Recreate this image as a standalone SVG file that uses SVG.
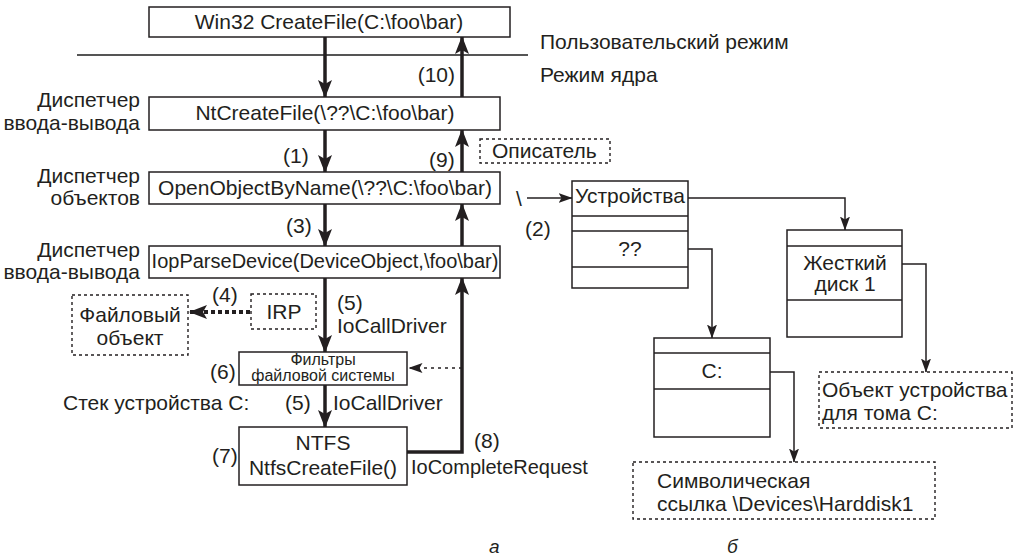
<svg xmlns="http://www.w3.org/2000/svg" width="1018" height="560" viewBox="0 0 1018 560">
<style>
text{font-family:"Liberation Sans",Arial,sans-serif;font-size:21px;fill:#231f20}
.c{text-anchor:middle}
.e{text-anchor:end}
.s{font-size:16px}
.n{font-size:20px}
.it{font-style:italic;font-size:19px}
.box{fill:#fff;stroke:#231f20;stroke-width:1.5}
.dbox{fill:none;stroke:#231f20;stroke-width:1.4;stroke-dasharray:3 3}
.thick{fill:none;stroke:#231f20;stroke-width:3.5}
.thin{fill:none;stroke:#231f20;stroke-width:1.5}
.row{stroke:#231f20;stroke-width:1.5}
</style>
<defs>
<marker id="big" markerUnits="userSpaceOnUse" markerWidth="18" markerHeight="14" viewBox="0 0 18 14" refX="17" refY="7" orient="auto">
<path d="M0,0 L18,7 L0,14 L4,7 z" fill="#231f20"/>
</marker>
<marker id="sm" markerUnits="userSpaceOnUse" markerWidth="14" markerHeight="10" viewBox="0 0 14 10" refX="13.5" refY="5" orient="auto">
<path d="M0,0 L14,5 L0,10 L3,5 z" fill="#231f20"/>
</marker>
</defs>

<line x1="77" y1="55" x2="528" y2="55" stroke="#555" stroke-width="2"/>
<text x="540" y="49">Пользовательский режим</text>
<text x="540" y="82">Режим ядра</text>

<g id="connectors">
<line class="thick" x1="325" y1="37" x2="325" y2="97" marker-end="url(#big)"/>
<line class="thick" x1="462" y1="97" x2="462" y2="37" marker-end="url(#big)"/>
<line class="thick" x1="325" y1="130" x2="325" y2="172" marker-end="url(#big)"/>
<line class="thick" x1="462" y1="172" x2="462" y2="130" marker-end="url(#big)"/>
<line class="thick" x1="325" y1="204" x2="325" y2="246" marker-end="url(#big)"/>
<line class="thick" x1="462" y1="246" x2="462" y2="204" marker-end="url(#big)"/>
<line class="thick" x1="325" y1="278" x2="325" y2="352" marker-end="url(#big)"/>
<line class="thick" x1="325" y1="385" x2="325" y2="427" marker-end="url(#big)"/>
<path class="thick" d="M407,452 H462 V278" marker-end="url(#big)"/>
<line x1="250" y1="312" x2="190" y2="312" stroke="#231f20" stroke-width="4" stroke-dasharray="4 3" marker-end="url(#big)"/>
<line x1="462" y1="368" x2="409" y2="368" stroke="#231f20" stroke-width="1.5" stroke-dasharray="3 4" marker-end="url(#sm)"/>
<line class="thin" x1="527" y1="198" x2="572" y2="198" marker-end="url(#sm)"/>
<path class="thin" d="M688,198 H845 V230" marker-end="url(#sm)"/>
<path class="thin" d="M688,249 H712 V338" marker-end="url(#sm)"/>
<path class="thin" d="M902,264 H926 V372" marker-end="url(#sm)"/>
<path class="thin" d="M770,372 H794 V462" marker-end="url(#sm)"/>
</g>

<g id="win32">
<rect class="box" x="149" y="7" width="361" height="30"/>
<text class="c" x="329" y="29">Win32 CreateFile(C:\foo\bar)</text>
</g>
<g id="ntcreate">
<rect class="box" x="149" y="97" width="351" height="33"/>
<text class="c" x="325" y="120">NtCreateFile(\??\C:\foo\bar)</text>
<text class="e" x="140" y="107">Диспетчер</text>
<text class="e" x="140" y="130">ввода-вывода</text>
</g>
<g id="openobj">
<rect class="box" x="149" y="172" width="351" height="32"/>
<text class="c" x="325" y="195">OpenObjectByName(\??\C:\foo\bar)</text>
<text class="e" x="140" y="183">Диспетчер</text>
<text class="e" x="140" y="205">объектов</text>
</g>
<g id="iopparse">
<rect class="box" x="149" y="246" width="351" height="32"/>
<text class="c n" x="325" y="268">IopParseDevice(DeviceObject,\foo\bar)</text>
<text class="e" x="140" y="257">Диспетчер</text>
<text class="e" x="140" y="279">ввода-вывода</text>
</g>
<g id="handle">
<rect class="dbox" x="480" y="139" width="130" height="24"/>
<text x="492" y="158">Описатель</text>
</g>
<g id="irp">
<rect class="dbox" x="251" y="294" width="65" height="35"/>
<text class="c" x="284" y="319">IRP</text>
</g>
<g id="fileobj">
<rect class="dbox" x="72" y="295" width="116" height="60"/>
<text class="c" x="130" y="322">Файловый</text>
<text class="c" x="130" y="345">объект</text>
</g>
<g id="filters">
<rect class="box" x="239" y="352" width="168" height="33"/>
<text class="c s" x="323" y="365">Фильтры</text>
<text class="c s" x="323" y="381">файловой системы</text>
</g>
<g id="ntfs">
<rect class="box" x="239" y="427" width="168" height="58"/>
<text class="c" x="323" y="450">NTFS</text>
<text class="c" x="323" y="475">NtfsCreateFile()</text>
</g>

<g id="labels">
<text class="e" x="455" y="82">(10)</text>
<text x="283" y="163">(1)</text>
<text x="429" y="167">(9)</text>
<text x="286" y="233">(3)</text>
<text x="212" y="302">(4)</text>
<text x="337" y="310">(5)</text>
<text x="337" y="333">IoCallDriver</text>
<text x="210" y="379">(6)</text>
<text x="63" y="410">Стек устройства C:</text>
<text x="285" y="410">(5)</text>
<text x="333" y="410">IoCallDriver</text>
<text x="212" y="463">(7)</text>
<text x="474" y="448">(8)</text>
<text class="n" x="411" y="474">IoCompleteRequest</text>
<text x="516" y="206">\</text>
<text x="525" y="236">(2)</text>
<text class="it" x="489" y="553">а</text>
<text class="it" x="727" y="553">б</text>
</g>

<g id="devices">
<rect class="box" x="572" y="181" width="116" height="107"/>
<line class="row" x1="572" y1="216" x2="688" y2="216"/>
<line class="row" x1="572" y1="231" x2="688" y2="231"/>
<line class="row" x1="572" y1="267" x2="688" y2="267"/>
<text x="575" y="203">Устройства</text>
<text class="c" x="630" y="256">??</text>
</g>
<g id="harddisk">
<rect class="box" x="787" y="230" width="115" height="107"/>
<line class="row" x1="787" y1="246" x2="902" y2="246"/>
<line class="row" x1="787" y1="300" x2="902" y2="300"/>
<text class="c" x="845" y="270">Жесткий</text>
<text class="c" x="845" y="291">диск 1</text>
</g>
<g id="cdrive">
<rect class="box" x="654" y="338" width="116" height="99"/>
<line class="row" x1="654" y1="353" x2="770" y2="353"/>
<line class="row" x1="654" y1="389" x2="770" y2="389"/>
<text class="c" x="712" y="378">C:</text>
</g>
<g id="devobj">
<rect class="dbox" x="819" y="372" width="193" height="56"/>
<text x="822" y="397">Объект устройства</text>
<text x="822" y="420">для тома C:</text>
</g>
<g id="symlink">
<rect class="dbox" x="633" y="462" width="302" height="57"/>
<text x="657" y="488">Символическая</text>
<text x="657" y="511">ссылка \Devices\Harddisk1</text>
</g>
</svg>
